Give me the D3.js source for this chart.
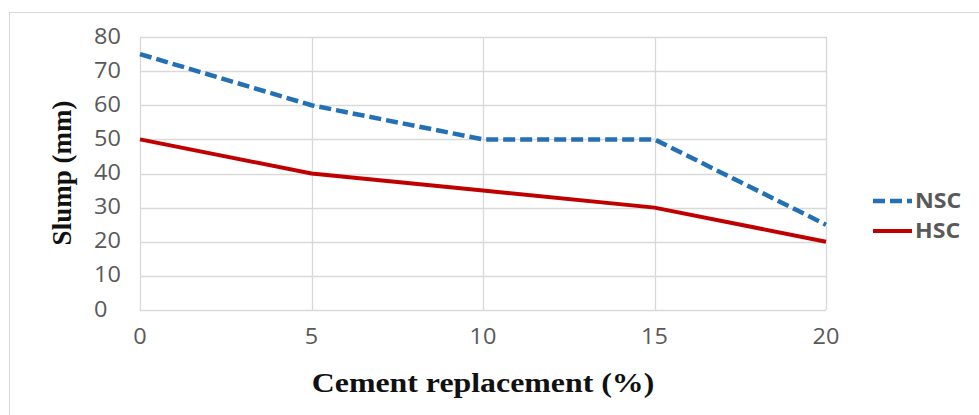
<!DOCTYPE html>
<html>
<head>
<meta charset="utf-8">
<script src="https://cdn.jsdelivr.net/npm/d3@7"></script>
<style>
  body { margin: 0; background: #fff; }
  svg { display: block; }
</style>
</head>
<body>
<div id="chart"></div>
<script>
// chart values
const replacement = [0, 5, 10, 15, 20];
const nscSlump = [75, 60, 50, 50, 25];
const hscSlump = [50, 40, 35, 30, 20];
const yTicks = [0, 10, 20, 30, 40, 50, 60, 70, 80];
const xTicks = [0, 5, 10, 15, 20];
const seriesNames = ["NSC", "HSC"];

const W = 979, H = 415;
const plot = { left: 140, right: 826, top: 37, bottom: 310 };

const svg = d3.select("#chart")
  .append("svg")
  .attr("width", W)
  .attr("height", H);

// outer chart frame (runs off the right and bottom of the picture)
svg.append("rect")
  .attr("x", 9.5)
  .attr("y", 12.5)
  .attr("width", W + 20)
  .attr("height", H + 20)
  .attr("fill", "#fff")
  .attr("stroke", "#d9d9d9");

const x = d3.scaleLinear().domain([0, 20]).range([plot.left, plot.right]);
const y = d3.scaleLinear().domain([0, 80]).range([plot.bottom, plot.top]);

// gridlines
svg.append("g")
  .selectAll("line")
  .data(yTicks)
  .enter()
  .append("line")
  .attr("x1", plot.left)
  .attr("x2", plot.right)
  .attr("y1", d => Math.round(y(d)) + 0.5)
  .attr("y2", d => Math.round(y(d)) + 0.5)
  .attr("stroke", "#d9d9d9")
  .attr("stroke-width", 1.3);

svg.append("g")
  .selectAll("line")
  .data(xTicks)
  .enter()
  .append("line")
  .attr("x1", d => Math.round(x(d)) + 0.5)
  .attr("x2", d => Math.round(x(d)) + 0.5)
  .attr("y1", plot.top)
  .attr("y2", plot.bottom)
  .attr("stroke", "#d9d9d9")
  .attr("stroke-width", 1.3);

// tick labels (source image is slightly stretched sideways)
svg.append("g")
  .selectAll("text")
  .data(yTicks)
  .enter()
  .append("text")
  .attr("transform", d => `translate(94,${y(d) + 1}) scale(1.12,1)`)
  .attr("dominant-baseline", "middle")
  .attr("font-family", "'Open Sans', sans-serif")
  .attr("font-size", 21)
  .attr("fill", "#595959")
  .text(d => d);

svg.append("g")
  .selectAll("text")
  .data(xTicks)
  .enter()
  .append("text")
  .attr("transform", d => `translate(${x(d)},338) scale(1.12,1)`)
  .attr("text-anchor", "middle")
  .attr("dominant-baseline", "middle")
  .attr("font-family", "'Open Sans', sans-serif")
  .attr("font-size", 21)
  .attr("fill", "#595959")
  .text(d => d);

// axis titles
svg.append("text")
  .attr("transform", "translate(483,392) scale(1.18,1)")
  .attr("text-anchor", "middle")
  .attr("font-family", "'Liberation Serif', 'Times New Roman', serif")
  .attr("font-weight", "bold")
  .attr("font-size", 27)
  .attr("fill", "#111")
  .text("Cement replacement (%)");

svg.append("text")
  .attr("transform", "translate(71,173) rotate(-90)")
  .attr("text-anchor", "middle")
  .attr("font-family", "'Liberation Serif', 'Times New Roman', serif")
  .attr("font-weight", "bold")
  .attr("font-size", 27)
  .attr("fill", "#111")
  .text("Slump (mm)");

// lines
const line = d3.line()
  .x((d, i) => x(replacement[i]))
  .y(d => y(d));

svg.append("path")
  .datum(hscSlump)
  .attr("d", line)
  .attr("fill", "none")
  .attr("stroke", "#c00000")
  .attr("stroke-width", 4);

svg.append("path")
  .datum(nscSlump)
  .attr("d", line)
  .attr("fill", "none")
  .attr("stroke", "#2370b5")
  .attr("stroke-width", 4.5)
  .attr("stroke-dasharray", "12,5");

// legend
const legendStyle = [
  { color: "#2370b5", dash: "12,5", width: 4.5 },
  { color: "#c00000", dash: null, width: 4 }
];

const legend = svg.append("g")
  .selectAll("g")
  .data(seriesNames)
  .enter()
  .append("g")
  .attr("transform", (d, i) => `translate(873,${201 + i * 30})`);

legend.append("line")
  .attr("x1", 0)
  .attr("x2", 39)
  .attr("y1", 0)
  .attr("y2", 0)
  .attr("stroke", (d, i) => legendStyle[i].color)
  .attr("stroke-width", (d, i) => legendStyle[i].width)
  .attr("stroke-dasharray", (d, i) => legendStyle[i].dash);

legend.append("text")
  .attr("transform", "translate(42,1) scale(1.1,1)")
  .attr("dominant-baseline", "middle")
  .attr("font-family", "'Open Sans', sans-serif")
  .attr("font-weight", "bold")
  .attr("font-size", 21)
  .attr("fill", "#595959")
  .text(d => d);
</script>
</body>
</html>
